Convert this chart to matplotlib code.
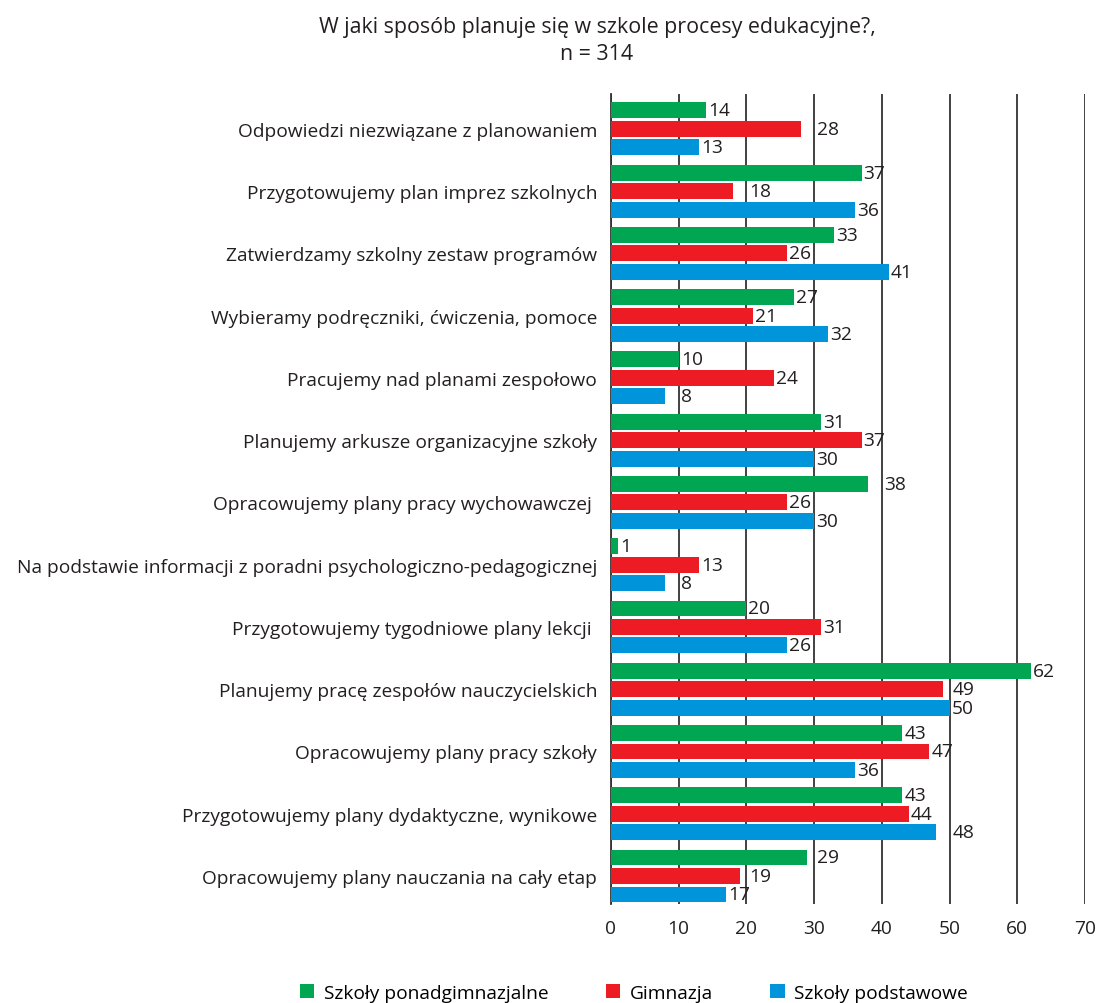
import matplotlib.pyplot as plt
import numpy as np

plt.rcParams['font.family'] = ['Open Sans', 'DejaVu Sans']

categories = [
    'Odpowiedzi niezwiązane z planowaniem',
    'Przygotowujemy plan imprez szkolnych',
    'Zatwierdzamy szkolny zestaw programów',
    'Wybieramy podręczniki, ćwiczenia, pomoce',
    'Pracujemy nad planami zespołowo',
    'Planujemy arkusze organizacyjne szkoły',
    'Opracowujemy plany pracy wychowawczej ',
    'Na podstawie informacji z poradni psychologiczno-pedagogicznej',
    'Przygotowujemy tygodniowe plany lekcji ',
    'Planujemy pracę zespołów nauczycielskich',
    'Opracowujemy plany pracy szkoły',
    'Przygotowujemy plany dydaktyczne, wynikowe',
    'Opracowujemy plany nauczania na cały etap',
]
ponadgimnazjalne = [14, 37, 33, 27, 10, 31, 38, 1, 20, 62, 43, 43, 29]
gimnazja = [28, 18, 26, 21, 24, 37, 26, 13, 31, 49, 47, 44, 19]
podstawowe = [13, 36, 41, 32, 8, 30, 30, 8, 26, 50, 36, 48, 17]

series = [
    ('Szkoły ponadgimnazjalne', ponadgimnazjalne, '#00a651'),
    ('Gimnazja', gimnazja, '#ed1c24'),
    ('Szkoły podstawowe', podstawowe, '#0095da'),
]

fig = plt.figure(figsize=(10.99, 10.04), dpi=100)
ax = fig.add_axes([611 / 1099, 1 - 905 / 1004, 474 / 1099, 810 / 1004])

y = np.arange(len(categories))
pitch = 0.297
height = 0.255
text_col = '#231f20'
fs = 13.8


def label_x(v):
    # push the number past a gridline it would sit on
    for g in range(10, 80, 10):
        if v < g < v + 2.9:
            return g + 0.4
    return v + 0.3


for k, (name, vals, col) in enumerate(series):
    pos = y + (k - 1) * pitch
    ax.barh(pos, vals, height=height, color=col, label=name, zorder=3)
    for p, v in zip(pos, vals):
        ax.text(label_x(v), p, str(v), va='center', ha='left',
                fontsize=fs, color=text_col, zorder=4)

ax.set_xlim(0, 70)
ax.set_ylim(len(categories) - 1 + 0.45, -0.56)
ax.set_xticks(range(0, 80, 10))
ax.set_yticks(y)
ax.set_yticklabels(categories, fontsize=fs, color=text_col)
ax.tick_params(axis='both', length=0)
ax.tick_params(axis='y', pad=10)
ax.tick_params(axis='x', labelsize=fs, labelcolor=text_col, pad=11)
ax.xaxis.grid(True, color='#333333', linewidth=1.3, zorder=0)
for s in ['top', 'right', 'bottom']:
    ax.spines[s].set_visible(False)
ax.spines['left'].set_color('#333333')
ax.spines['left'].set_linewidth(1.3)

fig.text(597 / 1099, 1 - 28 / 1004, 'W jaki sposób planuje się w szkole procesy edukacyjne?,',
         ha='center', va='center', fontsize=15.4, color=text_col)
fig.text(597 / 1099, 1 - 55 / 1004, 'n = 314',
         ha='center', va='center', fontsize=15.4, color=text_col)

fig.legend(loc='center', bbox_to_anchor=(634 / 1099, 1 - 994 / 1004), ncol=3,
           frameon=False, fontsize=fs, handlelength=0.75, handleheight=0.75,
           columnspacing=3.0, handletextpad=0.5)

fig.savefig('out.png', dpi=100)
